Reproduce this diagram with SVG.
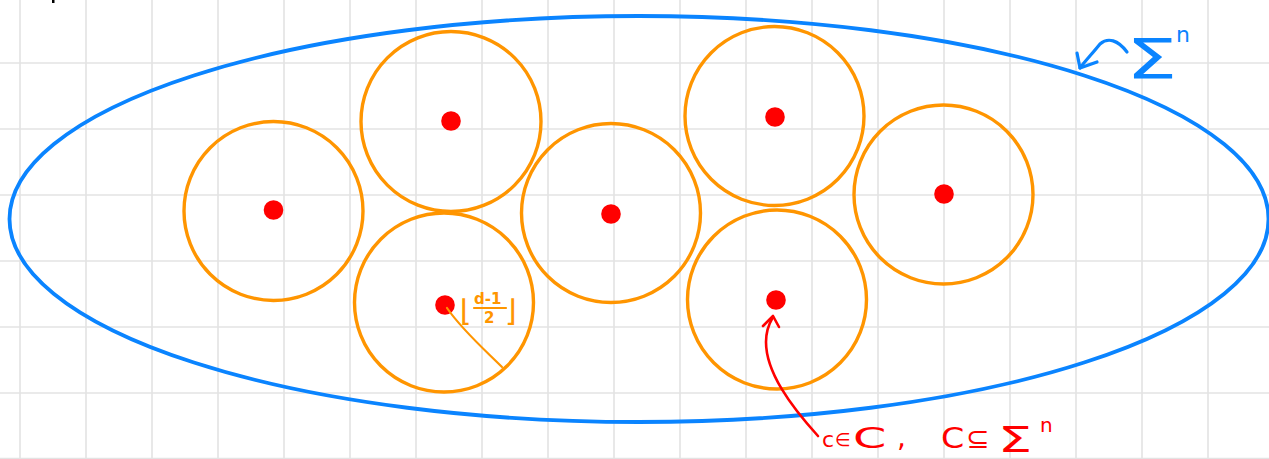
<svg xmlns="http://www.w3.org/2000/svg" width="1269" height="459" viewBox="0 0 1269 459">
<style>
.grid line{stroke:#e3e3e3;stroke-width:1.6}
.ball{fill:none;stroke:#ff9500;stroke-width:3.4}
.dot{fill:#ff0000}
.space{fill:none;stroke:#0a84ff;stroke-width:3.8}
.blue{fill:none;stroke:#0a84ff;stroke-width:3.2;stroke-linecap:round;stroke-linejoin:round}
.red{fill:none;stroke:#ff0000;stroke-width:2.6;stroke-linecap:round;stroke-linejoin:round}
.orl{fill:none;stroke:#ff9500;stroke-width:2.2;stroke-linecap:round}
.tb{fill:#0a84ff;font-family:"DejaVu Sans","Liberation Sans",sans-serif}
.tr{fill:#ff0000;font-family:"DejaVu Sans","Liberation Sans",sans-serif}
.to{fill:#ff9500;font-family:"DejaVu Sans","Liberation Sans",sans-serif}
</style>
<rect width="1269" height="459" fill="#ffffff"/>
<g class="grid">
<line x1="20" y1="0" x2="20" y2="459"/><line x1="86" y1="0" x2="86" y2="459"/><line x1="152" y1="0" x2="152" y2="459"/><line x1="218" y1="0" x2="218" y2="459"/><line x1="284" y1="0" x2="284" y2="459"/><line x1="350" y1="0" x2="350" y2="459"/><line x1="416" y1="0" x2="416" y2="459"/><line x1="482" y1="0" x2="482" y2="459"/><line x1="548" y1="0" x2="548" y2="459"/><line x1="614" y1="0" x2="614" y2="459"/><line x1="680" y1="0" x2="680" y2="459"/><line x1="746" y1="0" x2="746" y2="459"/><line x1="812" y1="0" x2="812" y2="459"/><line x1="878" y1="0" x2="878" y2="459"/><line x1="944" y1="0" x2="944" y2="459"/><line x1="1010" y1="0" x2="1010" y2="459"/><line x1="1076" y1="0" x2="1076" y2="459"/><line x1="1142" y1="0" x2="1142" y2="459"/><line x1="1208" y1="0" x2="1208" y2="459"/>
<line x1="0" y1="63" x2="1269" y2="63"/><line x1="0" y1="129" x2="1269" y2="129"/><line x1="0" y1="195" x2="1269" y2="195"/><line x1="0" y1="261" x2="1269" y2="261"/><line x1="0" y1="327" x2="1269" y2="327"/><line x1="0" y1="393" x2="1269" y2="393"/><line x1="0" y1="458.5" x2="1269" y2="458.5"/>
</g>
<rect x="52" y="0" width="2.5" height="3" fill="#000"/>
<g id="space">
<ellipse class="space" cx="639" cy="219" rx="629.5" ry="203"/>
<text class="tb" x="0" y="0" font-size="56" transform="translate(1126 78) scale(1.45 1)">Σ</text>
<text class="tb" x="1176" y="42" font-size="22">n</text>
</g>
<g id="ball1"><circle class="ball" cx="273.5" cy="211" r="89.5"/><circle class="dot" cx="273.5" cy="210" r="9.8"/></g>
<g id="ball2"><circle class="ball" cx="451" cy="121.5" r="90"/><circle class="dot" cx="451" cy="121" r="9.8"/></g>
<g id="ball3"><circle class="ball" cx="611" cy="213" r="89.5"/><circle class="dot" cx="611" cy="214" r="9.8"/></g>
<g id="ball4"><circle class="ball" cx="774.5" cy="116" r="89.5"/><circle class="dot" cx="775" cy="117" r="9.8"/></g>
<g id="ball5"><circle class="ball" cx="943.5" cy="194.5" r="89.5"/><circle class="dot" cx="944" cy="194" r="9.8"/></g>
<g id="ball6"><circle class="ball" cx="444" cy="302.5" r="89.5"/><circle class="dot" cx="445" cy="305" r="9.8"/>
<text class="to" x="460" y="321" font-size="30">⌊</text>
<text class="to" x="505" y="321" font-size="30">⌋</text>
<text class="to" x="474" y="304" font-size="15" font-weight="bold">d-1</text>
<line class="orl" x1="474" y1="308" x2="506" y2="308" stroke-width="1.6"/>
<text class="to" x="484" y="323" font-size="15" font-weight="bold">2</text>
</g>
<g id="ball7"><circle class="ball" cx="777" cy="299.5" r="89.5"/><circle class="dot" cx="776" cy="300" r="9.8"/></g>
<g id="label-code">
<text class="tr" x="822" y="447" font-size="22">c</text>
<text class="tr" x="835" y="446" font-size="18">∈</text>
<text class="tr" x="0" y="0" font-size="29" transform="translate(853 448) scale(1.65 1)">C</text>
<text class="tr" x="897" y="447" font-size="28">,</text>
<text class="tr" x="0" y="0" font-size="29" transform="translate(941 448) scale(1.15 1)">C</text>
<text class="tr" x="966" y="448" font-size="28">⊆</text>
<text class="tr" x="0" y="0" font-size="36" transform="translate(998 452) scale(1.5 1)">Σ</text>
<text class="tr" x="1040" y="432" font-size="20">n</text>
</g>
<g id="connectors">
<path class="blue" d="M1127,52 C1118,40 1108,37 1100,44 C1092,54 1086,60 1080,68"/>
<path class="blue" d="M1077,53 L1080,68 L1097,62"/>
<path class="red" d="M818,436 C790,405 766,372 766,342 C766,330 770,322 773,317"/>
<path class="red" d="M763,326 L773,316 L779,327"/>
<path class="orl" d="M447,308 C462,330 485,350 502,367"/>
</g>
</svg>
